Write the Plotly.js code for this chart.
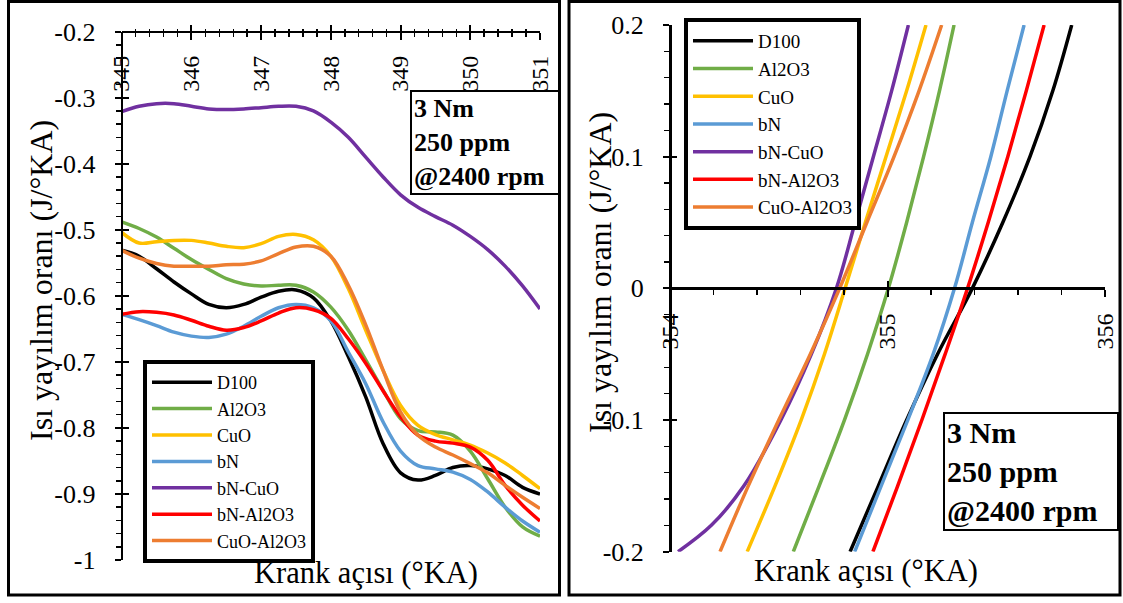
<!DOCTYPE html>
<html>
<head>
<meta charset="utf-8">
<script src="https://cdn.plot.ly/plotly-3.0.1.min.js"></script>
<style>html,body{margin:0;padding:0;background:#fff}#chart{width:1123px;height:603px}</style>
</head>
<body>
<div id="chart"></div>
<script>
// ---------- DATA ----------
const seriesNames = ["D100", "Al2O3", "CuO", "bN", "bN-CuO", "bN-Al2O3", "CuO-Al2O3"];
const seriesColors = ["#000000", "#70AD47", "#FFC000", "#5B9BD5", "#7030A0", "#FF0000", "#ED7D31"];

// Left panel: crank angle 345..351
const leftX = [345, 345.25, 345.5, 345.75, 346, 346.25, 346.5, 346.75, 347, 347.25, 347.5, 347.75,
               348, 348.25, 348.5, 348.75, 349, 349.25, 349.5, 349.75, 350, 350.25, 350.5, 350.75, 351];
const D100_L     = [-0.531,-0.540,-0.559,-0.579,-0.597,-0.613,-0.618,-0.613,-0.602,-0.593,-0.591,-0.603,-0.638,-0.692,-0.753,-0.824,-0.868,-0.879,-0.872,-0.860,-0.857,-0.862,-0.872,-0.890,-0.900];
const Al2O3_L    = [-0.488,-0.498,-0.511,-0.528,-0.545,-0.560,-0.574,-0.582,-0.585,-0.584,-0.584,-0.594,-0.617,-0.652,-0.697,-0.743,-0.786,-0.804,-0.806,-0.811,-0.835,-0.877,-0.920,-0.950,-0.964];
const CuO_L      = [-0.504,-0.520,-0.518,-0.516,-0.516,-0.520,-0.525,-0.527,-0.521,-0.510,-0.507,-0.515,-0.540,-0.589,-0.652,-0.713,-0.766,-0.796,-0.810,-0.818,-0.826,-0.838,-0.853,-0.872,-0.892];
const bN_L       = [-0.628,-0.636,-0.645,-0.655,-0.661,-0.663,-0.658,-0.646,-0.631,-0.618,-0.613,-0.618,-0.638,-0.685,-0.733,-0.791,-0.835,-0.857,-0.862,-0.867,-0.878,-0.897,-0.920,-0.941,-0.958];
const bNCuO_L    = [-0.321,-0.313,-0.309,-0.309,-0.313,-0.317,-0.318,-0.317,-0.315,-0.313,-0.313,-0.320,-0.337,-0.360,-0.390,-0.420,-0.447,-0.466,-0.480,-0.493,-0.510,-0.530,-0.555,-0.585,-0.620];
const bNAl2O3_L  = [-0.628,-0.624,-0.625,-0.629,-0.637,-0.646,-0.652,-0.648,-0.638,-0.626,-0.618,-0.621,-0.634,-0.665,-0.702,-0.744,-0.783,-0.811,-0.820,-0.823,-0.829,-0.849,-0.887,-0.917,-0.941];
const CuOAl2O3_L = [-0.531,-0.543,-0.551,-0.555,-0.555,-0.555,-0.553,-0.552,-0.547,-0.536,-0.526,-0.525,-0.540,-0.584,-0.644,-0.713,-0.776,-0.811,-0.829,-0.841,-0.854,-0.868,-0.887,-0.905,-0.922];

// Right panel: crank angle read at heat-release-rate levels
const rightY       = [0.2, 0.15, 0.1, 0.05, 0, -0.05, -0.1, -0.15, -0.2];
const rightY_bNCuO = [0.2, 0.15, 0.1, 0.05, 0, -0.05, -0.1, -0.15, -0.18, -0.2];
const D100_R     = [355.847, 355.760, 355.655, 355.530, 355.390, 355.230, 355.088, 354.958, 354.828];
const Al2O3_R    = [355.306, 355.239, 355.166, 355.088, 355.004, 354.908, 354.802, 354.686, 354.567];
const CuO_R      = [355.177, 355.088, 354.993, 354.898, 354.805, 354.710, 354.603, 354.483, 354.355];
const bN_R       = [355.628, 355.550, 355.475, 355.390, 355.308, 355.210, 355.093, 354.971, 354.849];
const bNCuO_R    = [355.096, 355.019, 354.935, 354.851, 354.765, 354.650, 354.510, 354.340, 354.190, 354.037];
const bNAl2O3_R  = [355.720, 355.638, 355.553, 355.463, 355.368, 355.265, 355.158, 355.047, 354.933];
const CuOAl2O3_R = [355.249, 355.145, 355.030, 354.905, 354.780, 354.645, 354.500, 354.360, 354.230];

// Tick labels
const leftXTickVals = [345, 346, 347, 348, 349, 350, 351];
const leftXTickText = ["345", "346", "347", "348", "349", "350", "351"];
const leftYTickVals = [-1, -0.9, -0.8, -0.7, -0.6, -0.5, -0.4, -0.3, -0.2];
const leftYTickText = ["-1", "-0.9", "-0.8", "-0.7", "-0.6", "-0.5", "-0.4", "-0.3", "-0.2"];
const rightXTickVals = [354, 355, 356];
const rightXTickText = ["354", "355", "356"];
const rightYTickVals = [-0.2, -0.1, 0, 0.1, 0.2];
const rightYTickText = ["-0.2", "-0.1", "0", "0.1", "0.2"];

const xTitle = "Krank açısı (°KA)";
const yTitle = "Isı yayılım oranı (J/°KA)";
const infoText = "<b>3 Nm<br>250 ppm<br>@2400 rpm</b>";

// ---------- BUILD ----------
const W = 1123, H = 603;
const PX = v => v / W;
const PY = v => 1 - v / H;
const FONT = "'Liberation Serif', 'Times New Roman', serif";

const leftYs = [D100_L, Al2O3_L, CuO_L, bN_L, bNCuO_L, bNAl2O3_L, CuOAl2O3_L];
const rightXs = [D100_R, Al2O3_R, CuO_R, bN_R, bNCuO_R, bNAl2O3_R, CuOAl2O3_R];
const rightYs = [rightY, rightY, rightY, rightY, rightY_bNCuO, rightY, rightY];

const traces = [];
seriesNames.forEach((n, i) => {
  traces.push({type: 'scatter', mode: 'lines', name: n, x: leftX, y: leftYs[i],
    xaxis: 'x', yaxis: 'y', legend: 'legend',
    line: {color: seriesColors[i], width: 3.5, shape: 'spline', smoothing: 1}});
});
seriesNames.forEach((n, i) => {
  traces.push({type: 'scatter', mode: 'lines', name: n, x: rightXs[i], y: rightYs[i],
    xaxis: 'x2', yaxis: 'y2', legend: 'legend2',
    line: {color: seriesColors[i], width: 3.5, shape: 'spline', smoothing: 1}});
});
// empty traces to activate the overlay (inner tick) axes
traces.push({type: 'scatter', x: [], y: [], xaxis: 'x3', yaxis: 'y3', showlegend: false, hoverinfo: 'skip'});
traces.push({type: 'scatter', x: [], y: [], xaxis: 'x4', yaxis: 'y4', showlegend: false, hoverinfo: 'skip'});

const Ldom = [PX(121.7), PX(540)];
const Lydom = [PY(560), PY(31.7)];
const Rdom = [PX(670), PX(1105)];
const Rydom = [PY(551.7), PY(25)];

const baseAx = {showgrid: false, zeroline: false, automargin: false, fixedrange: true,
  linecolor: '#000', linewidth: 2.5, tickcolor: '#000', tickwidth: 2};

const layout = {
  width: W, height: H,
  margin: {l: 0, r: 0, t: 0, b: 0, pad: 0},
  paper_bgcolor: '#fff', plot_bgcolor: 'rgba(0,0,0,0)',
  font: {family: FONT, color: '#000'},
  showlegend: true,
  xaxis: Object.assign({}, baseAx, {
    domain: Ldom, range: [345, 351], anchor: 'free', position: Lydom[1], side: 'bottom',
    showline: true, ticks: 'outside', ticklen: 7,
    tickmode: 'array', tickvals: leftXTickVals, ticktext: leftXTickText, tickangle: -90,
    ticklabelstandoff: 6, tickfont: {family: FONT, size: 24, color: '#000'},
    minor: {ticks: 'outside', tickmode: 'linear', tick0: 345, dtick: 0.2, ticklen: 4, tickwidth: 1.5, tickcolor: '#000'}
  }),
  yaxis: Object.assign({}, baseAx, {
    domain: Lydom, range: [-1, -0.2], anchor: 'free', position: Ldom[0], side: 'left',
    showline: true, ticks: 'outside', ticklen: 6,
    tickmode: 'array', tickvals: leftYTickVals, ticktext: leftYTickText,
    ticklabelstandoff: 14, tickfont: {family: FONT, size: 26, color: '#000'},
    minor: {ticks: 'outside', tickmode: 'linear', tick0: -1, dtick: 0.02, ticklen: 5, tickwidth: 1.5, tickcolor: '#000'}
  }),
  xaxis3: Object.assign({}, baseAx, {
    overlaying: 'x', range: [345, 351], anchor: 'free', position: Lydom[1], side: 'bottom',
    showline: false, ticks: 'inside', ticklen: 7, tickmode: 'array', tickvals: leftXTickVals,
    showticklabels: false,
    minor: {ticks: 'inside', tickmode: 'linear', tick0: 345, dtick: 0.2, ticklen: 3, tickwidth: 1.5, tickcolor: '#000'}
  }),
  yaxis3: Object.assign({}, baseAx, {
    overlaying: 'y', range: [-1, -0.2], anchor: 'free', position: Ldom[0], side: 'left',
    showline: false, ticks: 'inside', ticklen: 6, tickmode: 'array', tickvals: leftYTickVals,
    showticklabels: false
  }),
  xaxis2: Object.assign({}, baseAx, {
    domain: Rdom, range: [354, 356], anchor: 'free', position: PY(288.3), side: 'bottom',
    showline: true, ticks: 'outside', ticklen: 7,
    tickmode: 'array', tickvals: rightXTickVals, ticktext: rightXTickText, tickangle: -90,
    ticklabelstandoff: 7, tickfont: {family: FONT, size: 24, color: '#000'},
    minor: {ticks: 'outside', tickmode: 'linear', tick0: 354, dtick: 0.2, ticklen: 5, tickwidth: 1.5, tickcolor: '#000'}
  }),
  yaxis2: Object.assign({}, baseAx, {
    domain: Rydom, range: [-0.2, 0.2], anchor: 'free', position: Rdom[0], side: 'left',
    showline: true, ticks: 'outside', ticklen: 6,
    tickmode: 'array', tickvals: rightYTickVals, ticktext: rightYTickText,
    ticklabelstandoff: 14, tickfont: {family: FONT, size: 26, color: '#000'},
    minor: {ticks: 'outside', tickmode: 'linear', tick0: -0.2, dtick: 0.02, ticklen: 5, tickwidth: 1.5, tickcolor: '#000'}
  }),
  xaxis4: Object.assign({}, baseAx, {
    overlaying: 'x2', range: [354, 356], anchor: 'free', position: PY(288.3), side: 'bottom',
    showline: false, ticks: 'inside', ticklen: 7, tickmode: 'array', tickvals: rightXTickVals,
    showticklabels: false
  }),
  yaxis4: Object.assign({}, baseAx, {
    overlaying: 'y2', range: [-0.2, 0.2], anchor: 'free', position: Rdom[0], side: 'left',
    showline: false, ticks: 'inside', ticklen: 6, tickmode: 'array', tickvals: rightYTickVals,
    showticklabels: false
  }),
  legend: {x: PX(143), y: PY(360), xanchor: 'left', yanchor: 'top',
    bgcolor: '#fff', bordercolor: '#000', borderwidth: 4, itemwidth: 60,
    font: {family: FONT, size: 18, color: '#000'}, tracegroupgap: 0},
  legend2: {x: PX(684), y: PY(18), xanchor: 'left', yanchor: 'top',
    bgcolor: '#fff', bordercolor: '#000', borderwidth: 4, itemwidth: 60,
    font: {family: FONT, size: 19, color: '#000'}, tracegroupgap: 0},
  shapes: [
    {type: 'rect', xref: 'paper', yref: 'paper', x0: PX(8.5), x1: PX(559.5), y0: PY(595), y1: PY(1.5),
      line: {color: '#000', width: 3}, fillcolor: 'rgba(0,0,0,0)'},
    {type: 'rect', xref: 'paper', yref: 'paper', x0: PX(569), x1: PX(1120), y0: PY(595), y1: PY(1.5),
      line: {color: '#000', width: 3}, fillcolor: 'rgba(0,0,0,0)'}
  ],
  annotations: [
    {xref: 'paper', yref: 'paper', x: PX(366), y: PY(573), xanchor: 'center', yanchor: 'middle',
      text: xTitle, showarrow: false, font: {family: FONT, size: 30.5, color: '#000'}},
    {xref: 'paper', yref: 'paper', x: PX(866), y: PY(571), xanchor: 'center', yanchor: 'middle',
      text: xTitle, showarrow: false, font: {family: FONT, size: 30.5, color: '#000'}},
    {xref: 'paper', yref: 'paper', x: PX(41), y: PY(281), xanchor: 'center', yanchor: 'middle',
      text: yTitle, textangle: -90, showarrow: false, font: {family: FONT, size: 32, color: '#000'}},
    {xref: 'paper', yref: 'paper', x: PX(600), y: PY(273), xanchor: 'center', yanchor: 'middle',
      text: yTitle, textangle: -90, showarrow: false, font: {family: FONT, size: 32, color: '#000'}},
    {xref: 'paper', yref: 'paper', x: PX(410), y: PY(90), xanchor: 'left', yanchor: 'top',
      text: infoText, align: 'left', showarrow: false, bgcolor: '#fff', bordercolor: '#000',
      borderwidth: 2, borderpad: 2, width: 142, font: {family: FONT, size: 26, color: '#000'}},
    {xref: 'paper', yref: 'paper', x: PX(943), y: PY(412), xanchor: 'left', yanchor: 'top',
      text: infoText, align: 'left', showarrow: false, bgcolor: '#fff', bordercolor: '#000',
      borderwidth: 2, borderpad: 2, width: 168, font: {family: FONT, size: 30, color: '#000'}}
  ]
};

Plotly.newPlot('chart', traces, layout, {staticPlot: true, displayModeBar: false});
</script>
</body>
</html>
